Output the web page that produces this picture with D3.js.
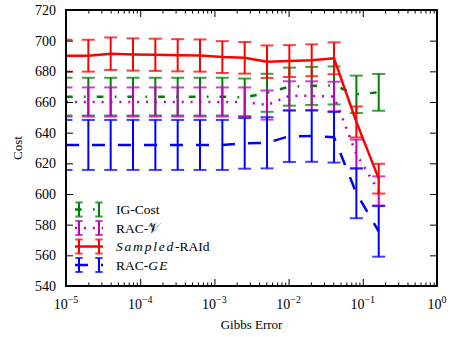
<!DOCTYPE html>
<html>
<head>
<meta charset="utf-8">
<script src="https://cdnjs.cloudflare.com/ajax/libs/d3/7.8.5/d3.min.js"></script>
<style>
body { margin: 0; background: #fff; }
text { font-family: "Liberation Serif", "DejaVu Serif", serif; fill: #000; }
</style>
</head>
<body>
<svg id="chart" width="450" height="337"></svg>
<script>
// gibbs error (x) - doubles each step
var gibbsError = [1e-5, 2e-5, 4e-5, 8e-5, 1.6e-4, 3.2e-4, 6.4e-4, 1.28e-3, 2.56e-3, 5.12e-3, 1.024e-2, 2.048e-2, 4.096e-2, 8.192e-2, 0.16384];

var igCost =      [663.5, 663.5, 663.5, 663.5, 663.5, 663.5, 663.5, 663.5, 663, 666, 670, 670.5, 670.8, 665, 666.3];
var igCostErr =   [12.3, 12.3, 12.3, 12.3, 12.3, 12.3, 12.3, 12.3, 12.3, 12.4, 12.4, 12.4, 12.4, 12.2, 12];
var racV =        [660, 660, 660, 660, 660, 660, 660, 660, 660, 658, 664, 664, 663.6, 626, 602];
var racVErr =     [9.5, 9.5, 9.5, 9.5, 9.5, 9.5, 9.5, 9.5, 9.5, 9.5, 9.5, 9.5, 9.6, 9.5, 9.5];
var sampled =     [690.2, 690.2, 691.5, 691, 690.8, 690.5, 690.3, 689.3, 688.8, 686.3, 686.7, 687.2, 688.5, 647, 610];
var sampledErr =  [10.4, 10.4, 10.6, 10.5, 10.5, 10.5, 10.5, 10.4, 10.3, 10.6, 10.4, 10.4, 10.4, 10.1, 9.7];
var racGE =       [632, 632, 632, 632, 632, 632, 632, 632, 633, 633.4, 637.7, 637.8, 637, 600.5, 575.6];
var racGEErr =    [16.3, 16.3, 16.3, 16.3, 16.3, 16.3, 16.3, 16.3, 16.5, 16.7, 16.8, 16.8, 16.5, 16.3, 16.5];

var xTicks = [1e-5, 1e-4, 1e-3, 1e-2, 1e-1, 1];
var xTickExp = ["\u22125", "\u22124", "\u22123", "\u22122", "\u22121", "0"];
var yTicks = [540, 560, 580, 600, 620, 640, 660, 680, 700, 720];

var series = [
    {label: ["IG-Cost"], color: "#008000", dash: "6.7,11.3,1.7,11", mean: igCost, err: igCostErr},
    {label: ["RAC-", "\ud835\udcb1"], color: "#bf00bf", dash: "2,6.9", mean: racV, err: racVErr},
    {label: ["Sampled", "-RAId"], color: "#ff0000", dash: null, mean: sampled, err: sampledErr},
    {label: ["RAC-", "GE"], color: "#0000ff", dash: "13,13", mean: racGE, err: racGEErr}
];

// plot box (window.top is read-only, so no plain "top")
var pL = 66, pR = 437, pT = 10, pB = 286;

var x = d3.scaleLog().domain([1e-5, 1]).range([pL, pR]);
var y = d3.scaleLinear().domain([540, 720]).range([pB, pT]);

var svg = d3.select("#chart");

svg.append("clipPath").attr("id", "plotclip")
    .append("rect")
    .attr("x", pL).attr("y", pT)
    .attr("width", pR - pL).attr("height", pB - pT);

var plot = svg.append("g").attr("clip-path", "url(#plotclip)");

var line = d3.line()
    .x(function (d) { return x(d[0]); })
    .y(function (d) { return y(d[1]); });

var capW = 6.5;

series.forEach(function (s) {
    var pts = gibbsError.map(function (g, i) { return [g, s.mean[i], s.err[i]]; });
    var g = plot.append("g");
    // error bars
    g.selectAll(".bar")
        .data(pts)
        .enter()
        .append("line")
        .attr("x1", function (d) { return x(d[0]); })
        .attr("x2", function (d) { return x(d[0]); })
        .attr("y1", function (d) { return y(d[1] - d[2]); })
        .attr("y2", function (d) { return y(d[1] + d[2]); })
        .attr("stroke", s.color)
        .attr("stroke-width", 2);
    [-1, 1].forEach(function (sgn) {
        g.selectAll(".cap" + sgn)
            .data(pts)
            .enter()
            .append("line")
            .attr("x1", function (d) { return x(d[0]) - capW; })
            .attr("x2", function (d) { return x(d[0]) + capW; })
            .attr("y1", function (d) { return y(d[1] + sgn * d[2]); })
            .attr("y2", function (d) { return y(d[1] + sgn * d[2]); })
            .attr("stroke", s.color)
            .attr("stroke-opacity", 0.75)
            .attr("stroke-width", 2);
    });
    g.append("path")
        .attr("d", line(pts))
        .attr("fill", "none")
        .attr("stroke", s.color)
        .attr("stroke-width", 2.5)
        .attr("stroke-dasharray", s.dash);
});

// axes - ticks pointing inward
var minorTicks = [];
for (var e = -5; e < 0; e++) {
    for (var m = 2; m < 10; m++) minorTicks.push(m * Math.pow(10, e));
}

svg.append("g")
    .attr("transform", "translate(0," + pB + ")")
    .call(d3.axisBottom(x).tickValues(xTicks).tickSize(-7).tickFormat(""));
svg.append("g")
    .attr("transform", "translate(0," + pB + ")")
    .call(d3.axisBottom(x).tickValues(minorTicks).tickSize(-3.5).tickFormat(""));
svg.append("g")
    .attr("transform", "translate(0," + pT + ")")
    .call(d3.axisTop(x).tickValues(xTicks).tickSize(-7).tickFormat(""));
svg.append("g")
    .attr("transform", "translate(0," + pT + ")")
    .call(d3.axisTop(x).tickValues(minorTicks).tickSize(-3.5).tickFormat(""));
svg.append("g")
    .attr("transform", "translate(" + pL + ",0)")
    .call(d3.axisLeft(y).tickValues(yTicks).tickSize(-7).tickPadding(10))
    .selectAll("text")
    .style("font-family", "Liberation Serif")
    .style("font-size", "14px");
svg.append("g")
    .attr("transform", "translate(" + pR + ",0)")
    .call(d3.axisRight(y).tickValues(yTicks).tickSize(-7).tickFormat(""));

svg.selectAll(".domain").remove();
svg.selectAll(".tick line").attr("stroke", "#000").attr("stroke-width", 1);

// frame
svg.append("rect")
    .attr("x", pL).attr("y", pT)
    .attr("width", pR - pL).attr("height", pB - pT)
    .attr("fill", "none")
    .attr("stroke", "#000")
    .attr("stroke-width", 2);

// x tick labels 10^n
var xl = svg.selectAll(".xlab")
    .data(xTicks)
    .enter()
    .append("text")
    .attr("x", function (d) { return x(d); })
    .attr("y", 309)
    .attr("text-anchor", "middle")
    .style("font-size", "14px");
xl.append("tspan").text("10");
xl.append("tspan")
    .attr("dy", -6)
    .style("font-size", "10px")
    .text(function (d, i) { return xTickExp[i]; });

svg.append("text")
    .attr("x", (pL + pR) / 2)
    .attr("y", 329)
    .attr("text-anchor", "middle")
    .style("font-size", "13px")
    .text("Gibbs Error");

svg.append("text")
    .attr("transform", "translate(22," + (pT + pB) / 2 + ") rotate(-90)")
    .attr("text-anchor", "middle")
    .style("font-size", "13px")
    .text("Cost");

// legend
var legY = [209.5, 228, 246.5, 265];
series.forEach(function (s, i) {
    var lg = svg.append("g").attr("transform", "translate(0," + legY[i] + ")");
    lg.append("line")
        .attr("x1", 75).attr("x2", 103).attr("y1", 0).attr("y2", 0)
        .attr("stroke", s.color).attr("stroke-width", 2.5)
        .attr("stroke-dasharray", s.dash);
    [79, 99].forEach(function (bx) {
        lg.append("line").attr("x1", bx).attr("x2", bx).attr("y1", -7).attr("y2", 7)
            .attr("stroke", s.color).attr("stroke-width", 2);
        [-7, 7].forEach(function (cy) {
            lg.append("line").attr("x1", bx - 3.7).attr("x2", bx + 3.7).attr("y1", cy).attr("y2", cy)
                .attr("stroke", s.color).attr("stroke-opacity", 0.75).attr("stroke-width", 2);
        });
    });
    var t = lg.append("text").attr("x", 116).attr("y", 4.5).style("font-size", "13.5px");
    if (i == 2) {
        t.append("tspan").style("font-style", "italic").style("letter-spacing", "1.8px").text(s.label[0]);
        t.append("tspan").text(s.label[1]);
    } else if (i == 1) {
        t.append("tspan").text(s.label[0]);
        t.append("tspan").style("font-family", "DejaVu Sans").text(s.label[1]);
    } else if (i == 3) {
        t.append("tspan").text(s.label[0]);
        t.append("tspan").style("font-style", "italic").style("letter-spacing", "1.2px").text(s.label[1]);
    } else {
        t.text(s.label[0]);
    }
});
</script>
</body>
</html>
